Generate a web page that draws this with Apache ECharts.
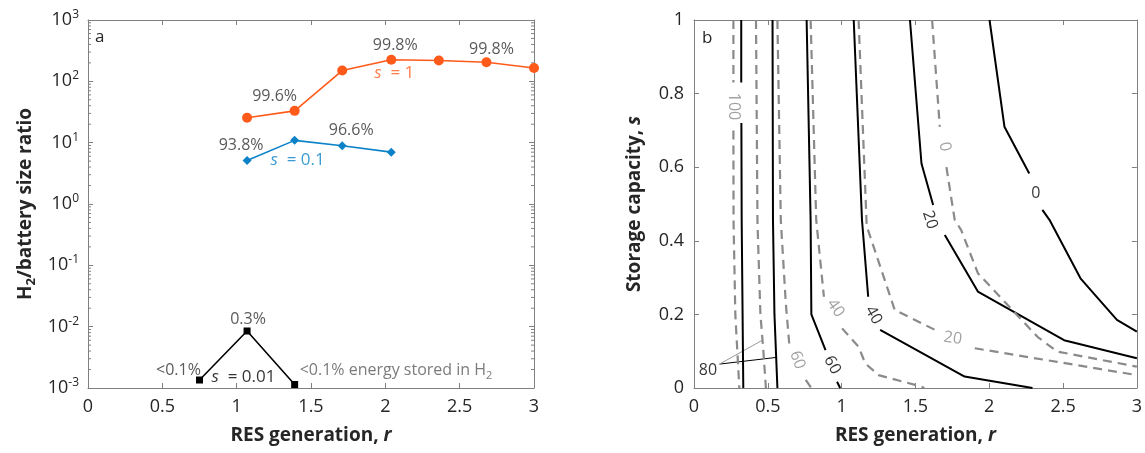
<!DOCTYPE html>
<html><head><meta charset="utf-8">
<script src="https://cdn.jsdelivr.net/npm/echarts@6.0.0/dist/echarts.min.js"></script>
<style>html,body{margin:0;padding:0;background:#fff}#c{width:1145px;height:453px}</style>
</head><body><div id="c"></div>
<script>
// ---------- Panel a data ----------
const rGen = [0.75, 1.07, 1.39, 1.71, 2.04, 2.36, 2.68, 3.0];
const ratioS1   = [null, 25.5, 33, 150, 225, 218, 205, 165];
const ratioS01  = [null, 5.1, 10.9, 8.9, 7.0, null, null, null];
const ratioS001 = [0.00135, 0.0085, 0.00114, null, null, null, null, null];
const annotS1   = [[2, '99.6%'], [4, '99.8%'], [6, '99.8%']];
const annotS01  = [[1, '93.8%'], [3, '96.6%']];
const annotS001 = [[0, '<0.1%'], [1, '0.3%']];
const xTicks = [0, 0.5, 1, 1.5, 2, 2.5, 3];
const logDecades = [-3, -2, -1, 0, 1, 2, 3];

// ---------- Panel b contour data (r, s) ; '-' = gap for label ----------
const contG100 = [[0.267,1],[0.267,0.83],'-',[0.267,0.70],[0.268,0.45],[0.28,0.2],[0.307,0]];
const contB100 = [[0.32,1],[0.32,0.83],'-',[0.321,0.72],[0.323,0.456],[0.334,0]];
const contG80  = [[0.42,1],[0.43,0.45],[0.45,0.2],[0.47,0.1],[0.487,0]];
const contB80  = [[0.532,1],[0.535,0.456],[0.545,0.2],[0.565,0]];
const contG60  = [[0.565,1],[0.588,0.456],[0.622,0.23],[0.645,0.121],'-',[0.757,0.022],[0.795,0]];
const contB60  = [[0.763,1],[0.79,0.456],[0.795,0.2],[0.891,0.103],'-',[0.969,0.017],[0.99,0]];
const contG40  = [[0.79,1],[0.828,0.456],[0.88,0.248],'-',[1.003,0.162],[1.115,0.112],[1.16,0.067],[1.25,0.035],[1.54,0.004],[1.56,0]];
const contB40  = [[1.082,1],[1.138,0.456],[1.18,0.248],'-',[1.261,0.158],[1.833,0.031],[2.293,0]];
const contG20  = [[1.115,1],[1.17,0.44],[1.36,0.212],[1.452,0.194],[1.632,0.158],'-',[1.902,0.108],[2.46,0.071],[3,0.035]];
const contB20  = [[1.463,1],[1.541,0.61],[1.62,0.497],'-',[1.699,0.416],[1.923,0.262],[2.507,0.13],[3,0.081]];
const contG0   = [[1.613,1],[1.665,0.71],'-',[1.71,0.60],[1.766,0.457],[1.81,0.429],[1.923,0.312],[2.327,0.139],[2.46,0.099],[3,0.058]];
const contB0   = [[2.002,1],[2.103,0.71],[2.271,0.583],'-',[2.36,0.484],[2.408,0.457],[2.618,0.298],[2.865,0.185],[3,0.153]];
const contourLabels = [
  ['100', 0.267, 0.765, 'g'], ['80', 0.094, 0.047, 'b'], ['60', 0.70, 0.076, 'g'],
  ['60', 0.936, 0.0625, 'b'], ['40', 0.958, 0.217, 'g'], ['40', 1.216, 0.198, 'b'],
  ['20', 1.753, 0.135, 'g'], ['20', 1.598, 0.457, 'b'], ['0', 1.699, 0.656, 'g'],
  ['0', 2.315, 0.529, 'b']
];
const leader80B = [[0.173,0.065],[0.555,0.083]];
const leader80G = [[0.173,0.065],[0.464,0.13]];
const sTicks = [0, 0.2, 0.4, 0.6, 0.8, 1];

// ---------- styles ----------
const FONT = '"Open Sans", "Noto Sans", sans-serif';
const AX = '#808080', TXT = '#262626', ANN = '#5a5a5a';
const ORANGE = '#ff5a1a', BLUE = '#0b82c8', GRAYC = '#8a8a8a';
const rotMap = {0:-90,1:0,2:-70,3:-62,4:-55,5:-60,6:-8,7:-72,8:-80,9:0};

function ptsIdx(arr){ return rGen.map((r,i)=>[r,arr[i]]); }

const chart = echarts.init(document.getElementById('c'), null, {renderer:'canvas'});

const supRich = {
  n:{fontSize:18, color:TXT, fontFamily:FONT, lineHeight:22},
  sup:{fontSize:12, color:TXT, fontFamily:FONT, padding:[0,0,11,0]}
};

function xAx(grid, pos, showLbl, name){
  return {type:'value', gridIndex:grid, position:pos, min:0, max:3, interval:0.5,
    axisLine:{show:true, onZero:false, lineStyle:{color:AX, width:1}},
    axisTick:{show:true, inside:true, length:5, lineStyle:{color:AX}},
    axisLabel:{show:showLbl, color:TXT, fontSize:18, fontFamily:FONT, margin:10,
      formatter:v=>String(v)},
    splitLine:{show:false},
    name: name||'', nameLocation:'middle', nameGap:38,
    nameTextStyle:{fontFamily:FONT, fontSize:19, fontWeight:'bold', color:TXT,
      rich:{b:{fontFamily:FONT, fontSize:19, fontWeight:'bold', color:TXT},
            i:{fontFamily:FONT, fontSize:19, fontWeight:'bold', fontStyle:'italic', color:TXT}}}
  };
}

function makeSeries(name, data, color, symbol, size, annots, offsets){
  const d = ptsIdx(data).map((p,i)=>{
    if(p[1]==null) return '-';
    const item = {value:p};
    const a = annots.find(x=>x[0]===i);
    if(a){
      const o = offsets[a[1]+'@'+i] || [0,-14];
      item.label = {show:true, position:'inside', offset:o, formatter:a[1], color:ANN,
        fontSize:16, fontFamily:FONT, align:'center'};
    }
    return item;
  });
  return {type:'line', name, xAxisIndex:0, yAxisIndex:0, data:d, symbol, symbolSize:size,
    itemStyle:{color}, lineStyle:{color, width:1.6}, connectNulls:false, z:5, silent:true};
}

const annOffsets = {
  '99.6%@2':[-20,-14], '99.8%@4':[4,-14], '99.8%@6':[5,-13],
  '93.8%@1':[-6,-15], '96.6%@3':[9,-15],
  '<0.1%@0':[-21,-10], '0.3%@1':[1,-12]
};

const series = [];
series.push(makeSeries('s=1', ratioS1, ORANGE, 'circle', 10, annotS1, annOffsets));
series.push(makeSeries('s=0.1', ratioS01, BLUE, 'diamond', 9, annotS01, annOffsets));
series.push(makeSeries('s=0.01', ratioS001, '#000', 'rect', 7, annotS001, annOffsets));

// series name labels (anchored to data points)
const sLabelRich = (c)=>({i:{fontStyle:'italic', color:c, fontSize:17, fontFamily:FONT}, n:{color:c, fontSize:17, fontFamily:FONT}});
series.push({type:'scatter', xAxisIndex:0, yAxisIndex:0, symbolSize:0, silent:true, z:6,
  data:[
    {value:[rGen[4], ratioS1[4]], label:{show:true, position:'inside', offset:[3,13], formatter:'{i|s}{n|  = 1}', rich:sLabelRich(ORANGE)}},
    {value:[rGen[2], ratioS01[2]], label:{show:true, position:'inside', offset:[3,20], formatter:'{i|s}{n|  = 0.1}', rich:sLabelRich(BLUE)}},
    {value:[rGen[0], ratioS001[0]], label:{show:true, position:'inside', offset:[44,-3], formatter:'{i|s}{n|  = 0.01}', rich:sLabelRich('#000')}},
    {value:[rGen[2], ratioS001[2]], label:{show:true, position:'inside', offset:[5,-14], align:'left',
      formatter:'{n|<0.1% energy stored in H}{s|2}',
      rich:{n:{color:ANN, fontSize:16, fontFamily:FONT}, s:{color:ANN, fontSize:11, fontFamily:FONT, padding:[10,0,0,0]}}}}
  ]});

// log minor ticks (2..9 per decade) on left & right edges of panel a
const minorVals = [];
for (let k=-3;k<=2;k++) for (let m=2;m<=9;m++) minorVals.push(m*Math.pow(10,k));
series.push({type:'custom', xAxisIndex:0, yAxisIndex:0, silent:true, z:3, clip:false,
  data:minorVals.map(v=>[0,v]),
  renderItem:(params, api)=>{
    const pL = api.coord([0, api.value(1)]);
    const pR = api.coord([3, api.value(1)]);
    return {type:'group', children:[
      {type:'line', shape:{x1:pL[0], y1:pL[1], x2:pL[0]+3, y2:pL[1]}, style:{stroke:AX, lineWidth:1}},
      {type:'line', shape:{x1:pR[0]-3, y1:pR[1], x2:pR[0], y2:pR[1]}, style:{stroke:AX, lineWidth:1}}
    ]};
  }});

// contours
const contourDefs = [
  [contG100,'g'],[contB100,'b'],[contG80,'g'],[contB80,'b'],[contG60,'g'],[contB60,'b'],
  [contG40,'g'],[contB40,'b'],[contG20,'g'],[contB20,'b'],[contG0,'g'],[contB0,'b']
];
contourDefs.forEach(([d,k])=>{
  series.push({type:'line', xAxisIndex:2, yAxisIndex:2, data:d, symbol:'none', silent:true,
    connectNulls:false, z:4,
    lineStyle: k==='b' ? {color:'#000', width:2} : {color:GRAYC, width:2.2, type:[9,6]}});
});
series.push({type:'line', xAxisIndex:2, yAxisIndex:2, data:leader80B, symbol:'none', silent:true, lineStyle:{color:'#000', width:1}});
series.push({type:'line', xAxisIndex:2, yAxisIndex:2, data:leader80G, symbol:'none', silent:true, lineStyle:{color:'#999', width:1}});
series.push({type:'scatter', xAxisIndex:2, yAxisIndex:2, symbolSize:0, silent:true, z:6,
  data: contourLabels.map((c,i)=>({value:[c[1],c[2]], label:{show:true, position:'inside', formatter:c[0],
    rotate:rotMap[i], color: c[3]==='b' ? '#000' : '#8a8a8a', fontSize:16, fontFamily:FONT}}))});

const option = {
  animation:false,
  backgroundColor:'#fff',
  grid:[
    {left:88, top:20, width:446, height:368, show:false},
    {left:694, top:20, width:446, height:368, show:false}
  ],
  xAxis:[
    xAx(0,'bottom',true,'{b|RES generation, }{i|r}'),
    xAx(0,'top',false),
    xAx(1,'bottom',true,'{b|RES generation, }{i|r}'),
    xAx(1,'top',false)
  ],
  yAxis:[
    {type:'log', gridIndex:0, position:'left', min:0.001, max:1000, logBase:10, splitNumber:6,
      axisLine:{show:true, onZero:false, lineStyle:{color:AX}},
      axisTick:{show:true, inside:true, length:5, lineStyle:{color:AX}},
      splitLine:{show:false},
      axisLabel:{color:TXT, fontSize:18, fontFamily:FONT, margin:9,
        formatter:v=>'{n|10}{sup|'+Math.round(Math.log10(v))+'}', rich:supRich},
      name:'{b|H}{s|2}{b|/battery size ratio}', nameLocation:'middle', nameGap:50, nameRotate:90,
      nameTextStyle:{rich:{b:{fontFamily:FONT, fontSize:19, fontWeight:'bold', color:TXT},
        s:{fontFamily:FONT, fontSize:13, fontWeight:'bold', color:TXT, padding:[12,0,0,0]}}}},
    {type:'log', gridIndex:0, position:'right', min:0.001, max:1000, logBase:10, splitNumber:6,
      axisLine:{show:true, onZero:false, lineStyle:{color:AX}},
      axisTick:{show:true, inside:true, length:5, lineStyle:{color:AX}},
      splitLine:{show:false}, axisLabel:{show:false}},
    {type:'value', gridIndex:1, position:'left', min:0, max:1, interval:0.2,
      axisLine:{show:true, onZero:false, lineStyle:{color:AX}},
      axisTick:{show:true, inside:true, length:5, lineStyle:{color:AX}},
      splitLine:{show:false},
      axisLabel:{color:TXT, fontSize:18, fontFamily:FONT, margin:10, formatter:v=>String(v)},
      name:'{b|Storage capacity, }{i|s}', nameLocation:'middle', nameGap:50, nameRotate:90,
      nameTextStyle:{rich:{b:{fontFamily:FONT, fontSize:19, fontWeight:'bold', color:TXT},
        i:{fontFamily:FONT, fontSize:19, fontWeight:'bold', fontStyle:'italic', color:TXT}}}},
    {type:'value', gridIndex:1, position:'right', min:0, max:1, interval:0.2,
      axisLine:{show:true, onZero:false, lineStyle:{color:AX}},
      axisTick:{show:true, inside:true, length:5, lineStyle:{color:AX}},
      splitLine:{show:false}, axisLabel:{show:false}}
  ],
  graphic:[
    {type:'text', left:95, top:29, style:{text:'a', fontSize:17, fontFamily:FONT, fill:TXT}},
    {type:'text', left:702, top:30, style:{text:'b', fontSize:17, fontFamily:FONT, fill:TXT}}
  ],
  series
};
chart.setOption(option);
</script></body></html>
